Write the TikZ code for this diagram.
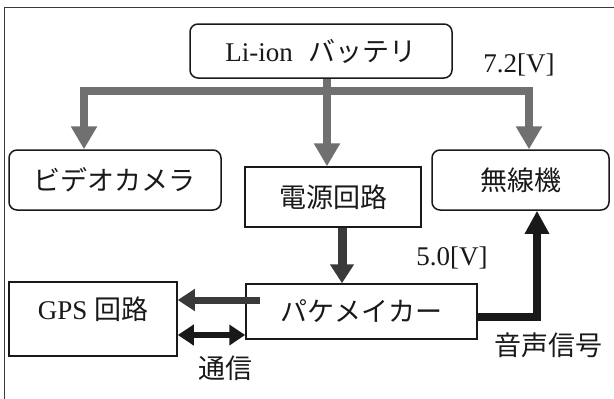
\documentclass[tikz,border=0pt]{standalone}
\usepackage{fontspec}
\setmainfont{Liberation Serif}
\newfontfamily\cjk{Noto Sans CJK JP}
\usetikzlibrary{arrows.meta}
\definecolor{busgray}{RGB}{112,112,112}
\definecolor{darkline}{RGB}{58,58,58}
\definecolor{ink}{RGB}{25,25,25}
\tikzset{
  blk/.style={draw=ink, line width=1.5pt, inner sep=0pt, text=ink, font=\fontsize{27}{31}\selectfont},
  rblk/.style={blk, rounded corners=8pt},
  lbl/.style={text=ink, inner sep=0pt, font=\fontsize{27}{31}\selectfont},
  bus/.style={busgray, line width=8pt, line join=miter,
    {Triangle[length=23pt,width=25pt]}-{Triangle[length=23pt,width=25pt]}},
  feed/.style={busgray, line width=8pt, -{Triangle[length=23pt,width=25pt]}},
  pwr/.style={darkline, line width=9pt, -{Triangle[length=19pt,width=23pt]}},
  data/.style={darkline, line width=7pt, -{Triangle[length=17pt,width=21pt]}},
  comm/.style={ink, line width=6pt, {Triangle[length=16pt,width=20pt]}-{Triangle[length=16pt,width=20pt]}},
  voice/.style={ink, line width=8pt, line join=miter, -{Triangle[length=23pt,width=23pt]}}
}
\begin{document}
\begin{tikzpicture}[x=1pt,y=-1pt]
\useasboundingbox (0,0) rectangle (614,399);
\fill[white] (0,0) rectangle (614,399);
\draw[darkline, line width=1pt] (4,399) -- (4,7) -- (614,7);

% blocks
\node[rblk, minimum width=262pt, minimum height=54pt] (bat) at (321,51) {Li-ion\hspace{16pt}{\cjk バッテリ}};
\node[rblk, minimum width=212pt, minimum height=60pt] (cam) at (115,180) {\cjk ビデオカメラ};
\node[blk, minimum width=176pt, minimum height=60pt] (psu) at (333,197) {\cjk 電源回路};
\node[rblk, minimum width=177pt, minimum height=60pt] (radio) at (520.5,180) {\cjk 無線機};
\node[blk, minimum width=231pt, minimum height=55pt] (pm) at (361.5,311.5) {\cjk パケメイカー};
\node[blk, minimum width=168pt, minimum height=74pt, text depth=22pt] (gps) at (93,319) {GPS {\cjk 回路}};

% 7.2V line
\coordinate (tap) at (327,91);
\coordinate (busL) at (84,91);
\coordinate (busR) at (529,91);
\draw[bus] (busL |- cam.north) -- (busL) -- (busR) -- (busR |- radio.north);
\draw[feed] (tap |- bat.south) -- (tap |- psu.north);
\node[lbl] (v72) at (519,65) {7.2[V]};

% 5.0V line
\coordinate (reg) at (342,250);
\draw[pwr] (reg |- psu.south) -- (reg |- pm.north);
\node[lbl] (v50) at (452,258) {5.0[V]};

% GPS
\coordinate (fix) at (260,300);
\coordinate (link) at (210,335);
\draw[data] (fix) -- (fix -| gps.east);
\draw[comm] (link -| gps.east) -- (link -| pm.west);
\node[lbl] (com) at (225,368) {\cjk 通信};

% audio
\coordinate (sig) at (537,317);
\draw[voice] (sig -| pm.east) -- (sig) -- (sig |- radio.south);
\node[lbl] (aud) at (548,345) {\cjk 音声信号};
\end{tikzpicture}
\end{document}
